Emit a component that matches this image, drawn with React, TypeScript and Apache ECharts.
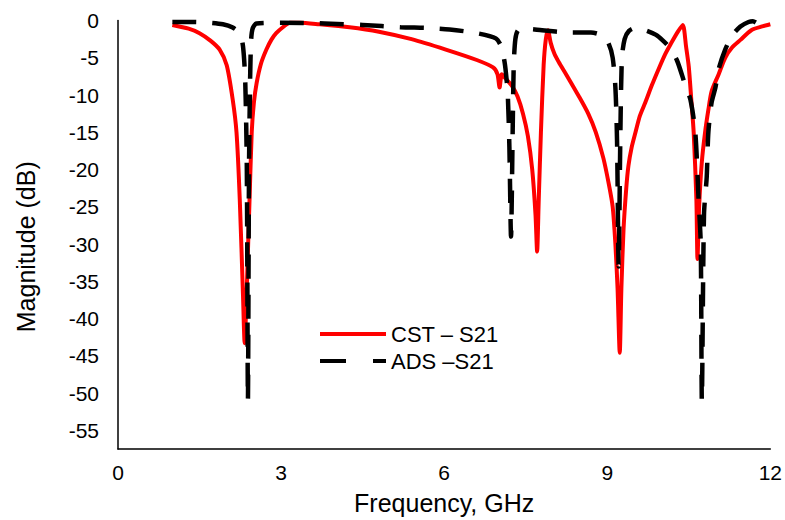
import React, { useEffect, useRef } from "react";
import * as echarts from "echarts";

const cstFreq = [
  1.0, 1.3, 1.5, 1.7, 1.87, 2.0, 2.11, 2.18, 2.24, 2.3, 2.33, 2.36, 2.39, 2.42, 2.46, 2.5, 2.55, 2.63, 2.73, 2.82, 2.91, 3.05, 3.16,
  3.34, 3.7, 4.26, 4.8, 5.4, 6.03, 6.6, 6.9, 6.98, 7.02, 7.06, 7.12, 7.25, 7.35, 7.45, 7.54, 7.62, 7.68, 7.71, 7.74, 7.78, 7.83,
  7.87, 7.91, 7.96, 8.03, 8.11, 8.25, 8.48, 8.65, 8.79, 8.93, 9.03, 9.1, 9.15, 9.19, 9.23, 9.26, 9.3, 9.35, 9.39, 9.45, 9.52,
  9.6, 9.7, 9.82, 9.94, 10.06, 10.18, 10.3, 10.39, 10.45, 10.5, 10.55, 10.59, 10.64, 10.66, 10.69, 10.74, 10.8, 10.86, 10.92,
  11.05, 11.17, 11.3, 11.45, 11.65, 11.85, 12.0,
];
const cstS21 = [
  -0.6, -1.1, -1.7, -2.7, -3.9, -6.0, -10.6, -15, -24, -37, -43.3, -38, -31, -24, -15, -11, -8.4, -5.8, -3.9, -2.6, -1.7, -0.8, -0.3,
  -0.3, -0.5, -0.9, -1.5, -2.5, -3.9, -5.3, -6.3, -7.2, -9.0, -7.2, -7.7, -8.8, -10.2, -12.5, -15.5, -20, -26, -31, -24, -15, -6,
  -2.5, -1.3, -3, -4.5, -5.6, -7.3, -10.2, -12.5, -15, -18.5, -22, -25, -30, -36, -44.6, -36, -28, -22.5, -19.5, -17, -15,
  -12.8, -11, -8.7, -6.6, -4.6, -3.0, -1.5, -0.6, -3.5, -6.2, -11, -15, -24, -32, -25, -19, -15, -12, -9.5,
  -7.2, -5, -3.6, -2.6, -1.3, -0.8, -0.5,
];

const adsFreq = [
  1.0, 1.4, 1.7, 1.93, 2.1, 2.24, 2.3, 2.34, 2.37, 2.39, 2.41, 2.43, 2.45, 2.48, 2.55, 3.0, 3.8, 4.5, 5.2, 5.7, 6.1, 6.6, 6.95,
  7.05, 7.12, 7.17, 7.2, 7.23, 7.26, 7.28, 7.31, 7.36, 7.5, 7.8, 8.3, 8.7, 8.9, 9.02, 9.1, 9.15, 9.18, 9.21, 9.24, 9.27, 9.32,
  9.4, 9.52, 9.7, 9.89, 10.01, 10.13, 10.28, 10.44, 10.53, 10.62, 10.68, 10.72, 10.74, 10.78, 10.83, 10.86, 10.92, 10.99, 11.05,
  11.17, 11.3, 11.45, 11.6, 11.68, 11.78,
];
const adsS21 = [
  -0.2, -0.2, -0.3, -0.5, -0.9, -1.7, -3.5, -8, -20, -51, -20, -8, -2.5, -1.0, -0.4, -0.3, -0.4, -0.6, -0.9, -1.0, -1.2, -1.7, -2.4,
  -3.5, -6, -10, -17, -29, -15, -6, -2.5, -1.3, -1.1, -1.3, -1.6, -1.6, -2.0, -3.0, -5, -9, -16, -33, -16, -5, -2.5,
  -1.4, -1.0, -1.3, -1.9, -2.6, -3.5, -5.3, -8.8, -10.6, -15, -24, -30, -51, -26, -21, -15, -11, -9, -6.5,
  -3.9, -2.0, -0.8, -0.2, -0.1, -0.5,
];

const xTicks = [0, 3, 6, 9, 12];
const yTicks = [0, -5, -10, -15, -20, -25, -30, -35, -40, -45, -50, -55];
const seriesNames = ["CST – S21", "ADS –S21"];

const FONT = "'Liberation Sans', Arial, Helvetica, sans-serif";

export default function App() {
  const ref = useRef<HTMLDivElement>(null);
  useEffect(() => {
    if (!ref.current) return;
    const chart = echarts.init(ref.current, undefined, { renderer: "svg" });
    const cstData = cstFreq.map((f, i) => [f, cstS21[i]]);
    const adsData = adsFreq.map((f, i) => [f, adsS21[i]]);
    chart.setOption({
      animation: false,
      backgroundColor: "#fff",
      grid: { left: 118, right: 13, top: 20.5, bottom: 68 },
      legend: {
        orient: "vertical",
        left: 313,
        top: 318,
        itemWidth: 66,
        itemHeight: 14,
        itemGap: 5,
        textStyle: { fontFamily: FONT, fontSize: 22, color: "#000" },
        itemStyle: { opacity: 0 },
        data: [
          { name: seriesNames[0], lineStyle: { width: 4, color: "#ff0000" } },
          { name: seriesNames[1], lineStyle: { width: 4, color: "#000", type: [26, 27] } },
        ],
      },
      xAxis: {
        type: "value",
        min: xTicks[0],
        max: xTicks[xTicks.length - 1],
        interval: 3,
        name: "Frequency, GHz",
        nameLocation: "middle",
        nameGap: 41,
        nameTextStyle: { fontFamily: FONT, fontSize: 25, color: "#000" },
        axisLine: { show: true, onZero: false, lineStyle: { color: "#000", width: 1.5 } },
        axisTick: { show: false },
        splitLine: { show: false },
        axisLabel: { margin: 13, fontFamily: FONT, fontSize: 21, color: "#000" },
      },
      yAxis: {
        type: "value",
        min: -57.5,
        max: 0,
        name: "Magnitude (dB)",
        nameLocation: "middle",
        nameGap: 80,
        nameTextStyle: { fontFamily: FONT, fontSize: 25, color: "#000", padding: [0, 24, 0, 0] },
        axisLine: { show: true, onZero: false, lineStyle: { color: "#000", width: 1.5 } },
        axisTick: { show: false },
        splitLine: { show: false },
        axisLabel: { margin: 19, fontFamily: FONT, fontSize: 21, color: "#000", customValues: yTicks },
      },
      series: [
        {
          name: seriesNames[0],
          type: "line",
          data: cstData,
          showSymbol: false,
          symbol: "none",
          smooth: 0.25,
          lineStyle: { color: "#ff0000", width: 4 },
          itemStyle: { color: "#ff0000" },
          z: 2,
        },
        {
          name: seriesNames[1],
          type: "line",
          data: adsData,
          showSymbol: false,
          symbol: "none",
          smooth: 0.25,
          lineStyle: { color: "#000", width: 4.5, type: [24, 16] },
          itemStyle: { color: "#000" },
          z: 3,
        },
      ],
    });
    return () => chart.dispose();
  }, []);
  return <div ref={ref} style={{ width: 785, height: 520, position: "absolute", left: 0, top: 0 }} />;
}
